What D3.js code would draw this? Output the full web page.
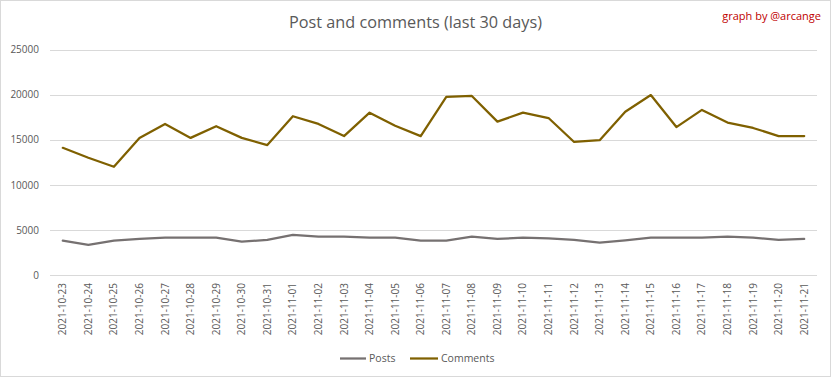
<!DOCTYPE html>
<html><head><meta charset="utf-8">
<script src="https://cdn.jsdelivr.net/npm/d3@7"></script>
<style>body{margin:0;background:#fff}svg{display:block}text{font-family:"Open Sans",sans-serif}</style>
</head><body><svg id="c" width="832" height="378"></svg>
<script>
const dates = ["2021-10-23","2021-10-24","2021-10-25","2021-10-26","2021-10-27","2021-10-28","2021-10-29","2021-10-30","2021-10-31","2021-11-01","2021-11-02","2021-11-03","2021-11-04","2021-11-05","2021-11-06","2021-11-07","2021-11-08","2021-11-09","2021-11-10","2021-11-11","2021-11-12","2021-11-13","2021-11-14","2021-11-15","2021-11-16","2021-11-17","2021-11-18","2021-11-19","2021-11-20","2021-11-21"];
const posts = [3800,3350,3800,4000,4150,4150,4150,3700,3900,4450,4250,4250,4150,4150,3800,3800,4250,4000,4150,4050,3900,3600,3850,4150,4150,4150,4250,4150,3900,4000];
const comments = [14100,13000,12000,15200,16750,15200,16500,15200,14400,17600,16750,15400,18000,16550,15400,19750,19850,17000,18000,17400,14750,14950,18100,19950,16400,18300,16900,16300,15400,15400];
const yTicks = [0,5000,10000,15000,20000,25000];

(function(){
const svg = d3.select("#c");
svg.append("rect").attr("x",0.5).attr("y",0.5).attr("width",830).attr("height",376)
  .attr("fill","#fff").attr("stroke","#d9d9d9");

const pl=50,pr=817,pt=49.5,pb=275;
const x = d3.scaleBand().domain(dates).range([pl,pr]);
const y = d3.scaleLinear().domain([0,25000]).range([pb,pt]);

svg.append("g").selectAll("line").data(yTicks).join("line")
  .attr("x1",pl).attr("x2",pr)
  .attr("y1",d=>Math.round(y(d))+0.5).attr("y2",d=>Math.round(y(d))+0.5)
  .attr("stroke","#d9d9d9").attr("stroke-width",1);

const ya = svg.append("g").attr("transform",`translate(${pl},0)`)
  .call(d3.axisLeft(y).tickValues(yTicks).tickSize(0).tickPadding(11).tickFormat(d3.format("d")));
ya.select(".domain").remove();
ya.selectAll("text").attr("fill","#595959").style("font-size","10px").style("font-family","'Open Sans',sans-serif");

const xa = svg.append("g").attr("transform",`translate(0,${pb})`)
  .call(d3.axisBottom(x).tickSize(0));
xa.select(".domain").remove();
xa.selectAll("text").attr("fill","#595959").style("font-size","10px").style("font-family","'Open Sans',sans-serif")
  .attr("text-anchor","end").attr("transform","rotate(-90)")
  .attr("x",-8).attr("y",0).attr("dy","0.35em");

const line = d3.line().x((d,i)=>x(dates[i])+x.bandwidth()/2).y(d=>y(d));
svg.append("path").datum(posts).attr("d",line).attr("fill","none")
  .attr("stroke","#767171").attr("stroke-width",2.25).attr("stroke-linejoin","round").attr("stroke-linecap","round");
svg.append("path").datum(comments).attr("d",line).attr("fill","none")
  .attr("stroke","#7f6000").attr("stroke-width",2.25).attr("stroke-linejoin","round").attr("stroke-linecap","round");

svg.append("text").attr("x",415.5).attr("y",28).attr("text-anchor","middle")
  .attr("fill","#595959").style("font-size","17px").attr("textLength",253).attr("lengthAdjust","spacingAndGlyphs")
  .text("Post and comments (last 30 days)");
svg.append("text").attr("x",821).attr("y",20).attr("text-anchor","end")
  .attr("fill","#c00000").style("font-size","11px")
  .text("graph by @arcange");

const legend = [{name:"Posts",color:"#767171",x0:340,x1:366},{name:"Comments",color:"#7f6000",x0:410,x1:438}];
const lg = svg.append("g");
legend.forEach(l=>{
  lg.append("line").attr("x1",l.x0).attr("x2",l.x1).attr("y1",358.5).attr("y2",358.5)
    .attr("stroke",l.color).attr("stroke-width",2.25);
  lg.append("text").attr("x",l.x1+3).attr("y",358.5).attr("dy","0.35em")
    .attr("fill","#595959").style("font-size","10.5px").text(l.name);
});
})();
</script></body></html>
